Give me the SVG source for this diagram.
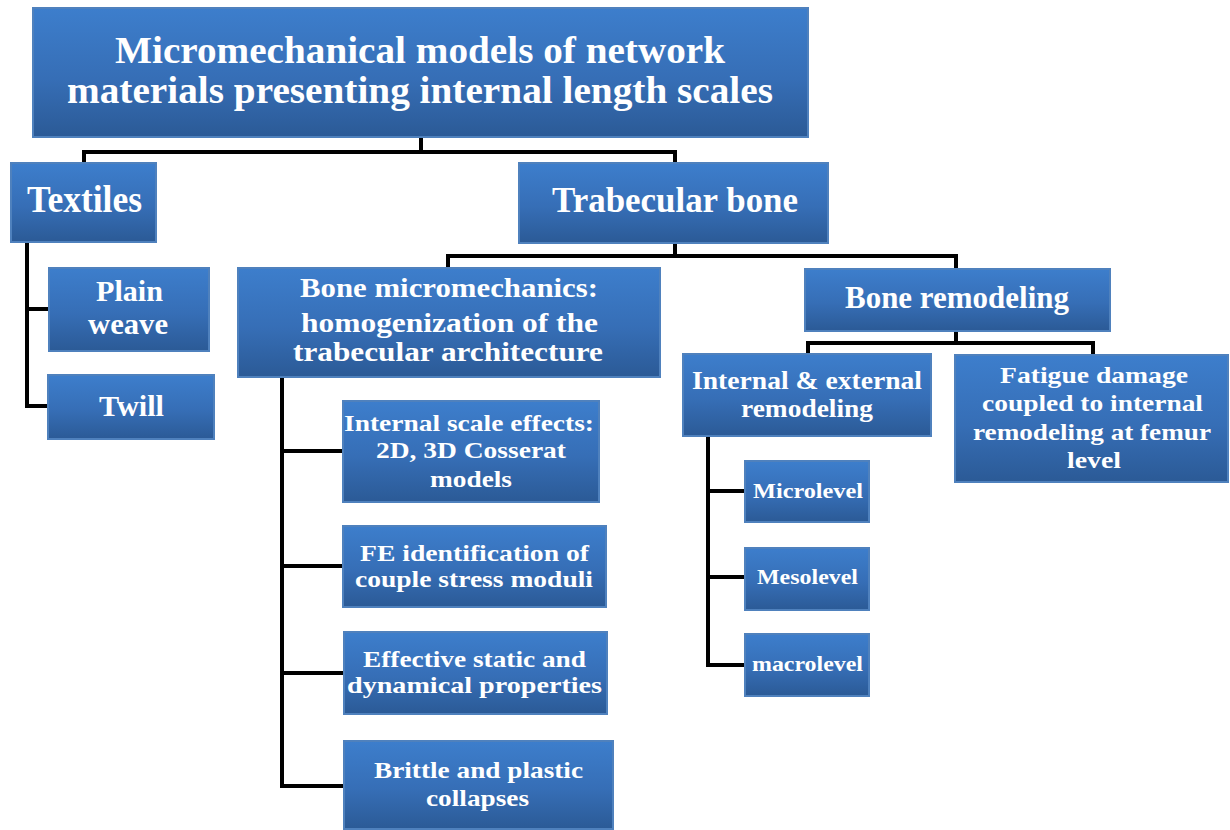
<svg xmlns="http://www.w3.org/2000/svg" width="1230" height="830" viewBox="0 0 1230 830">
<defs>
<linearGradient id="g" x1="0" y1="0" x2="0" y2="1">
<stop offset="0" stop-color="#3d7ecc"/>
<stop offset="0.55" stop-color="#366eb6"/>
<stop offset="1" stop-color="#2b5a96"/>
</linearGradient>
</defs>
<style>
.box{fill:url(#g);stroke:#4f81bd;stroke-width:2}
.t{font-family:"Liberation Serif","Times New Roman",serif;font-weight:bold;fill:#fff;text-anchor:middle}
.c{fill:none;stroke:#000;stroke-width:4;stroke-linecap:square}
</style>
<rect width="1230" height="830" fill="#fff"/>
<g id="connectors">
<path class="c" d="M421,137 V152 M84,163 V152 H675 V163"/>
<path class="c" d="M675,243 V256 M448,268 V256 H956 V269"/>
<path class="c" d="M956,331 V343 M808,354 V343 H1093 V355"/>
<path class="c" d="M27,242 V406 H48 M27,309 H49"/>
<path class="c" d="M282,377 V786 H343 M282,451 H343 M282,566 H343 M282,673 H343"/>
<path class="c" d="M708,436 V665 H745 M708,491 H745 M708,577 H745"/>
</g>
<g id="root">
<rect class="box" x="33" y="8" width="775" height="129"/>
<text class="t" x="420" y="63" font-size="38" textLength="610" lengthAdjust="spacingAndGlyphs">Micromechanical models of network</text>
<text class="t" x="420" y="103" font-size="38" textLength="706" lengthAdjust="spacingAndGlyphs">materials presenting internal length scales</text>
</g>
<g id="textiles">
<rect class="box" x="11" y="163" width="145" height="79"/>
<text class="t" x="84.5" y="212" font-size="37" textLength="115" lengthAdjust="spacingAndGlyphs">Textiles</text>
</g>
<g id="trabecular">
<rect class="box" x="519" y="163" width="309" height="80"/>
<text class="t" x="675" y="212" font-size="36" textLength="246" lengthAdjust="spacingAndGlyphs">Trabecular bone</text>
</g>
<g id="plain-weave">
<rect class="box" x="49" y="268" width="160" height="83"/>
<text class="t" x="129.5" y="301" font-size="29" textLength="67" lengthAdjust="spacingAndGlyphs">Plain</text>
<text class="t" x="128" y="334" font-size="29" textLength="80" lengthAdjust="spacingAndGlyphs">weave</text>
</g>
<g id="twill">
<rect class="box" x="48" y="375" width="166" height="64"/>
<text class="t" x="131.5" y="416" font-size="29" textLength="65" lengthAdjust="spacingAndGlyphs">Twill</text>
</g>
<g id="bone-micromechanics">
<rect class="box" x="238" y="268" width="422" height="109"/>
<text class="t" x="449" y="297" font-size="27" textLength="298" lengthAdjust="spacingAndGlyphs">Bone micromechanics:</text>
<text class="t" x="449.5" y="332" font-size="27" textLength="297" lengthAdjust="spacingAndGlyphs">homogenization  of the</text>
<text class="t" x="448" y="361" font-size="27" textLength="310" lengthAdjust="spacingAndGlyphs">trabecular architecture</text>
</g>
<g id="bone-remodeling">
<rect class="box" x="805" y="269" width="305" height="62"/>
<text class="t" x="957" y="308" font-size="31" textLength="224" lengthAdjust="spacingAndGlyphs">Bone remodeling</text>
</g>
<g id="internal-external">
<rect class="box" x="683" y="354" width="248" height="82"/>
<text class="t" x="807" y="389" font-size="25" textLength="230" lengthAdjust="spacingAndGlyphs">Internal &amp; external</text>
<text class="t" x="807" y="417" font-size="25" textLength="132" lengthAdjust="spacingAndGlyphs">remodeling</text>
</g>
<g id="fatigue">
<rect class="box" x="955" y="355" width="273" height="127"/>
<text class="t" x="1094" y="383" font-size="24" textLength="188" lengthAdjust="spacingAndGlyphs">Fatigue damage</text>
<text class="t" x="1092.5" y="411" font-size="24" textLength="221" lengthAdjust="spacingAndGlyphs">coupled to internal</text>
<text class="t" x="1092" y="440" font-size="24" textLength="238" lengthAdjust="spacingAndGlyphs">remodeling at femur</text>
<text class="t" x="1094" y="468" font-size="24" textLength="54" lengthAdjust="spacingAndGlyphs">level</text>
</g>
<g id="internal-scale">
<rect class="box" x="343" y="401" width="256" height="101"/>
<text class="t" x="469" y="431" font-size="24" textLength="250" lengthAdjust="spacingAndGlyphs">Internal scale effects:</text>
<text class="t" x="471" y="458" font-size="24" textLength="190" lengthAdjust="spacingAndGlyphs">2D, 3D Cosserat</text>
<text class="t" x="471" y="487" font-size="24" textLength="82" lengthAdjust="spacingAndGlyphs">models</text>
</g>
<g id="fe-identification">
<rect class="box" x="343" y="526" width="263" height="81"/>
<text class="t" x="474.5" y="561" font-size="24" textLength="229" lengthAdjust="spacingAndGlyphs">FE identification of</text>
<text class="t" x="474" y="587" font-size="24" textLength="238" lengthAdjust="spacingAndGlyphs">couple stress moduli</text>
</g>
<g id="effective">
<rect class="box" x="344" y="632" width="263" height="82"/>
<text class="t" x="474.5" y="667" font-size="24" textLength="223" lengthAdjust="spacingAndGlyphs">Effective static and</text>
<text class="t" x="474.5" y="693" font-size="24" textLength="255" lengthAdjust="spacingAndGlyphs">dynamical  properties</text>
</g>
<g id="brittle">
<rect class="box" x="344" y="741" width="269" height="88"/>
<text class="t" x="478.5" y="778" font-size="24" textLength="209" lengthAdjust="spacingAndGlyphs">Brittle and plastic</text>
<text class="t" x="477.5" y="806" font-size="24" textLength="103" lengthAdjust="spacingAndGlyphs">collapses</text>
</g>
<g id="microlevel">
<rect class="box" x="745" y="461" width="124" height="61"/>
<text class="t" x="808" y="498" font-size="22" textLength="110" lengthAdjust="spacingAndGlyphs">Microlevel</text>
</g>
<g id="mesolevel">
<rect class="box" x="745" y="548" width="124" height="62"/>
<text class="t" x="807.5" y="584" font-size="22" textLength="101" lengthAdjust="spacingAndGlyphs">Mesolevel</text>
</g>
<g id="macrolevel">
<rect class="box" x="745" y="634" width="124" height="62"/>
<text class="t" x="807.5" y="671" font-size="22" textLength="111" lengthAdjust="spacingAndGlyphs">macrolevel</text>
</g>
</svg>
